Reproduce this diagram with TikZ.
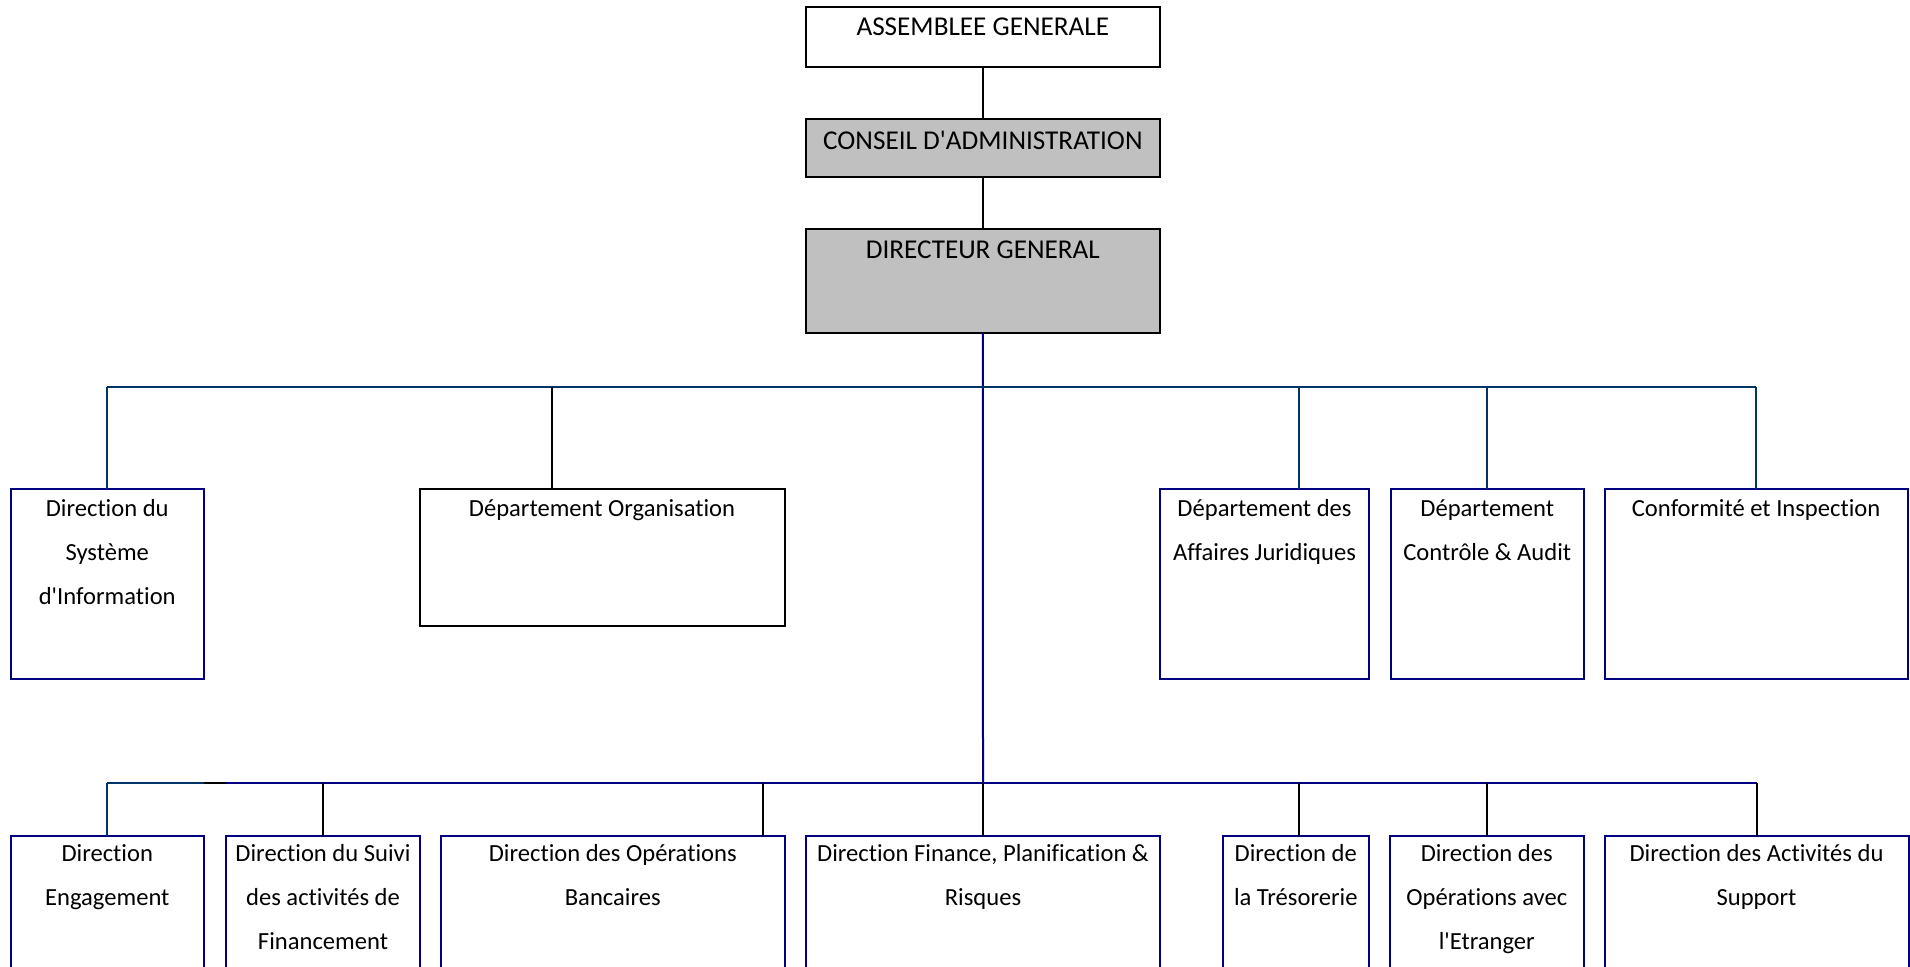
\documentclass[tikz,border=0pt]{standalone}
\usepackage{fontspec}
\setmainfont{Carlito}[Ligatures=NoCommon]
\definecolor{busblue}{HTML}{003366}
\definecolor{dirnavy}{HTML}{000080}
\definecolor{boardgray}{HTML}{C0C0C0}

\begin{document}
\begin{tikzpicture}[x=0.5pt, y=-0.5pt,
    unit/.style={draw=dirnavy, line width=1pt, anchor=north west, inner sep=0pt, outer sep=0pt},
    board/.style={unit, draw=black, minimum width=177.15pt},
    toptext/.style={anchor=north, align=center, inner sep=0pt, font=\fontsize{13.6}{22}\selectfont, yshift=#1},
    toptext/.default=-5.7pt,
    unittext/.style={anchor=north, align=center, inner sep=0pt, font=\fontsize{12.3}{22}\selectfont, yshift=#1},
    unittext/.default=-5pt,
    link/.style={line width=1pt}]
    \useasboundingbox (0,0) rectangle (1910,967);
    \clip (0,0) rectangle (1910,967);

    % Top of the chart
    \node[board, fill=white, minimum height=30pt, label={[toptext=-5.4pt]north:ASSEMBLEE GENERALE}] (ag) at (805.7,6.7) {};
    \node[board, fill=boardgray, minimum height=28.7pt, label={[toptext]north:CONSEIL D\textquotesingle ADMINISTRATION}] (ca) at (805.7,119.3) {};
    \node[board, fill=boardgray, minimum height=52pt, label={[toptext]north:DIRECTEUR GENERAL}] (dg) at (805.7,229.3) {};

    % Bus levels
    \coordinate (topbus) at (983,386.7);
    \coordinate (lowbus) at (983,782.7);

    % First row of units
    \node[unit, minimum width=96.75pt, minimum height=94.85pt, label={[unittext]north:Direction du\\Système\\d\textquotesingle Information}] (syst) at (10.5,489.3) {};
    \node[unit, draw=black, minimum width=182.5pt, minimum height=68.2pt, label={[unittext]north:Département Organisation}] (org) at (419.5,489.3) {};
    \node[unit, minimum width=104.5pt, minimum height=94.85pt, label={[unittext]north:Département des\\Affaires Juridiques}] (jur) at (1160,489.3) {};
    \node[unit, minimum width=96.75pt, minimum height=94.85pt, label={[unittext]north:Département\\Contrôle \& Audit}] (audit) at (1390.5,489.3) {};
    \node[unit, minimum width=151.5pt, minimum height=94.85pt, label={[unittext]north:Conformité et Inspection}] (conf) at (1604.6,489.3) {};

    % Second row of units (running past the bottom edge)
    \node[unit, minimum width=96.75pt, minimum height=82pt, label={[unittext=-4.2pt]north:Direction\\Engagement}] (eng) at (10.5,836) {};
    \node[unit, minimum width=97pt, minimum height=82pt, label={[unittext=-4.2pt]north:Direction du Suivi\\des activités de\\Financement}] (suivi) at (226,836) {};
    \node[unit, minimum width=171.75pt, minimum height=82pt, label={[unittext=-4.2pt]north:Direction des Opérations\\Bancaires}] (banc) at (441,836) {};
    \node[unit, minimum width=177pt, minimum height=82pt, label={[unittext=-4.2pt]north:{Direction Finance, Planification \&\\Risques}}] (fin) at (806,836) {};
    \node[unit, minimum width=73.25pt, minimum height=82pt, label={[unittext=-4.2pt]north:Direction de\\la Trésorerie}] (treso) at (1222.5,836) {};
    \node[unit, minimum width=96.75pt, minimum height=82pt, label={[unittext=-4.2pt]north:Direction des\\Opérations avec\\l\textquotesingle Etranger}] (etr) at (1390,836) {};
    \node[unit, minimum width=152pt, minimum height=82pt, label={[unittext=-4.2pt]north:Direction des Activités du\\Support}] (supp) at (1604.5,836) {};

    % Board links
    \draw[link] (ag) -- (ca);
    \draw[link] (ca) -- (dg);
    \draw[link, dirnavy] (dg.south) -- (lowbus);

    % Upper bus and its branches
    \draw[link, busblue] (syst.north |- topbus) -- (conf.north |- topbus);
    \draw[link, busblue] (syst.north |- topbus) -- (syst.north);
    \draw[link] ([xshift=-25.1pt]org.north |- topbus) -- ([xshift=-25.1pt]org.north);
    \draw[link, busblue] ([xshift=17.25pt]jur.north |- topbus) -- ([xshift=17.25pt]jur.north);
    \draw[link, busblue] (audit.north |- topbus) -- (audit.north);
    \draw[link, busblue] (conf.north |- topbus) -- (conf.north);

    % Lower bus and its branches
    \draw[link, busblue] (eng.north |- lowbus) -- (eng.north east |- lowbus);
    \draw[link] (eng.north east |- lowbus) -- (suivi.north west |- lowbus);
    \draw[link, dirnavy] (suivi.north west |- lowbus) -- (supp.north |- lowbus);
    \draw[link, busblue] (eng.north |- lowbus) -- (eng.north);
    \draw[link] (suivi.north |- lowbus) -- (suivi.north);
    \draw[link] ([xshift=75.1pt]banc.north |- lowbus) -- ([xshift=75.1pt]banc.north);
    \draw[link] (lowbus) -- (fin.north);
    \draw[link] ([xshift=1.6pt]treso.north |- lowbus) -- ([xshift=1.6pt]treso.north);
    \draw[link] (etr.north |- lowbus) -- (etr.north);
    \draw[link] (supp.north |- lowbus) -- (supp.north);
\end{tikzpicture}
\end{document}
